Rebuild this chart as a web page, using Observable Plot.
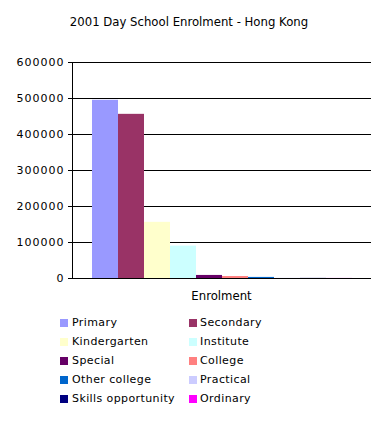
<!DOCTYPE html>
<html><head><meta charset="utf-8">
<script src="https://cdn.jsdelivr.net/npm/d3@7"></script>
<script src="https://cdn.jsdelivr.net/npm/@observablehq/plot@0.6"></script>
<style>
body{margin:0;background:#fff;font-family:"DejaVu Sans",sans-serif;color:#000}
#wrap{position:relative;width:383px;height:421px;overflow:hidden}
#wrap svg{position:absolute;left:0;top:0}
#wrap svg text{letter-spacing:1px}
#title{position:absolute;left:0;width:378px;top:15px;text-align:center;font-size:11.7px;line-height:14px}
#xlabel{position:absolute;left:72px;width:299px;top:289px;text-align:center;font-size:11.7px;line-height:14px}
.li{position:absolute;font-size:11px;line-height:14px;white-space:nowrap;letter-spacing:0.4px}
.sw{position:absolute;width:8px;height:8px}
</style></head>
<body><div id="wrap"><div id="title"></div><div id="xlabel"></div></div>
<script>
const title = "2001 Day School Enrolment - Hong Kong";
const groupLabel = "Enrolment";
const categories = ["Primary","Secondary","Kindergarten","Institute","Special","College","Other college","Practical","Skills opportunity","Ordinary"];
const values = [495000,456000,156000,90000,8500,5500,3000,400,300,200];
const colors = ["#9999FF","#993366","#FFFFCC","#CCFFFF","#660066","#FF8080","#0066CC","#CCCCFF","#000080","#FF00FF"];
const yTicks = [0,100000,200000,300000,400000,500000,600000];

const data = categories.map((c,i)=>({cat:c, value:values[i]}));
const wrap = document.getElementById("wrap");
document.getElementById("title").textContent = title;
document.getElementById("xlabel").textContent = groupLabel;

const chart = Plot.plot({
  width: 383, height: 421,
  marginTop: 62, marginBottom: 143, marginLeft: 72, marginRight: 12,
  style: {fontFamily: "DejaVu Sans", fontSize: "11px", color: "#000", background: "transparent"},
  x: {type: "band", domain: categories, paddingInner: 0, paddingOuter: 0.75, axis: null},
  y: {domain: [0, 600000], axis: null},
  color: {domain: categories, range: colors},
  marks: [
    Plot.gridY(yTicks, {stroke: "#000", strokeOpacity: 1, strokeWidth: 1}),
    Plot.barY(data, {x: "cat", y: "value", fill: "cat"}),
    Plot.frame({anchor: "left", stroke: "#000"}),
    Plot.ruleY([0], {stroke: "#000"}),
    Plot.axisY(yTicks, {tickSize: 4, tickPadding: 4, tickFormat: d => String(d), stroke: "#000", fill: "#000", label: null})
  ]
});
wrap.appendChild(chart);

const rowTop = 316, rowStep = 19;
categories.forEach((c, i) => {
  const col = i % 2, row = Math.floor(i / 2);
  const sw = document.createElement("div");
  sw.className = "sw";
  sw.style.left = (col ? 189 : 60) + "px";
  sw.style.top = (rowTop + row * rowStep + 3) + "px";
  sw.style.background = colors[i];
  wrap.appendChild(sw);
  const t = document.createElement("div");
  t.className = "li";
  t.style.left = (col ? 200 : 72) + "px";
  t.style.top = (rowTop + row * rowStep) + "px";
  t.textContent = c;
  wrap.appendChild(t);
});
</script></body></html>
